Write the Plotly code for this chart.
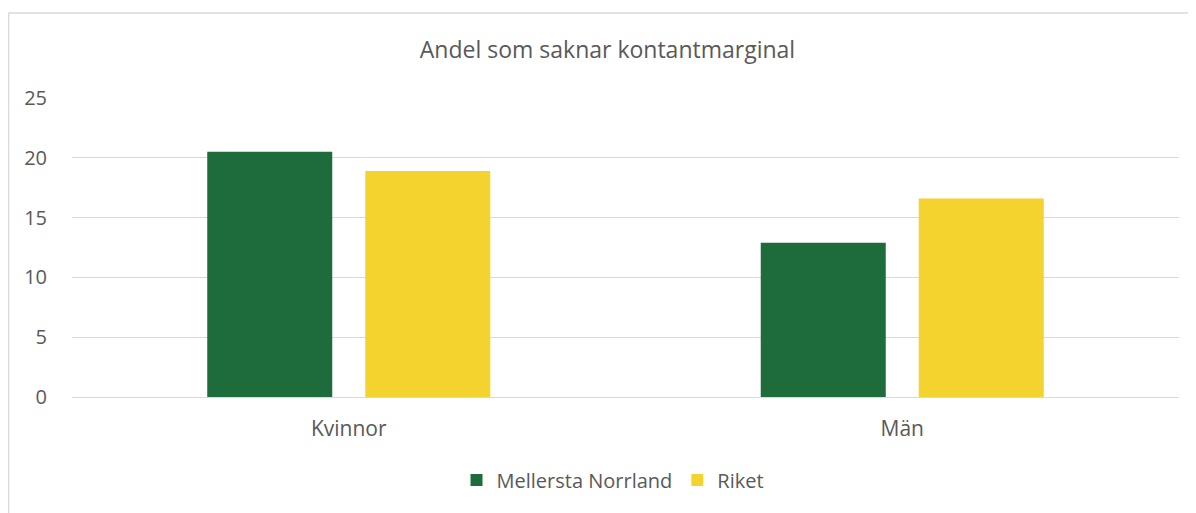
import plotly.graph_objects as go

categories = ["Kvinnor", "Män"]
mellersta_norrland = [20.5, 12.9]
riket = [18.9, 16.6]
y_ticks = [0, 5, 10, 15, 20, 25]

FONT = "Open Sans"
TXT = "#595959"

# page body adds an 8px offset; figure coordinates are shifted accordingly
L, T, R, B = 64, 90, 17, 116
W, H = 1188, 505
PW = W - L - R
PH = H - T - B

fig = go.Figure()
fig.add_trace(go.Bar(x=categories, y=mellersta_norrland, name="Mellersta Norrland",
                     marker=dict(color="#1E6B3C", line=dict(width=0))))
fig.add_trace(go.Bar(x=categories, y=riket, name="Riket",
                     marker=dict(color="#F4D32E", line=dict(width=0))))

fig.update_layout(
    width=W, height=H,
    margin=dict(l=L, r=R, t=T, b=B, autoexpand=False),
    paper_bgcolor="white", plot_bgcolor="white",
    barmode="group", bargap=0.429, bargroupgap=0.209,
    font=dict(family=FONT, color=TXT, size=20),
    title=dict(text="Andel som saknar kontantmarginal", x=(607.5 - 8) / W, xanchor="center",
               y=1 - 42 / H, yanchor="middle", font=dict(size=23, color=TXT, family=FONT)),
    legend=dict(orientation="h", x=(605 - L) / PW, xanchor="center",
                y=-(472 - (T + PH)) / PH, yanchor="middle",
                font=dict(size=20, color=TXT), traceorder="normal"),
    xaxis=dict(showgrid=False, showline=True, linecolor="#d9d9d9", linewidth=1,
               ticks="", ticklabelstandoff=13, automargin=False,
               tickfont=dict(size=21, color=TXT)),
    yaxis=dict(range=[0, 25], tickvals=y_ticks, showgrid=True, gridcolor="#d9d9d9",
               gridwidth=1, zeroline=False, showline=False, ticks="", automargin=False,
               ticklabelstandoff=24, tickfont=dict(size=20, color=TXT)),
    shapes=[
        dict(type="line", xref="paper", yref="paper", x0=(0.5 - L) / PW, x1=1.2,
             y0=(T + PH - 5) / PH, y1=(T + PH - 5) / PH, line=dict(color="#d9d9d9", width=1.5)),
        dict(type="line", xref="paper", yref="paper", x0=(0.5 - L) / PW, x1=(0.5 - L) / PW,
             y0=(T + PH - 5) / PH, y1=-1, line=dict(color="#d9d9d9", width=1.5)),
    ],
)

fig.write_html("out.html")
